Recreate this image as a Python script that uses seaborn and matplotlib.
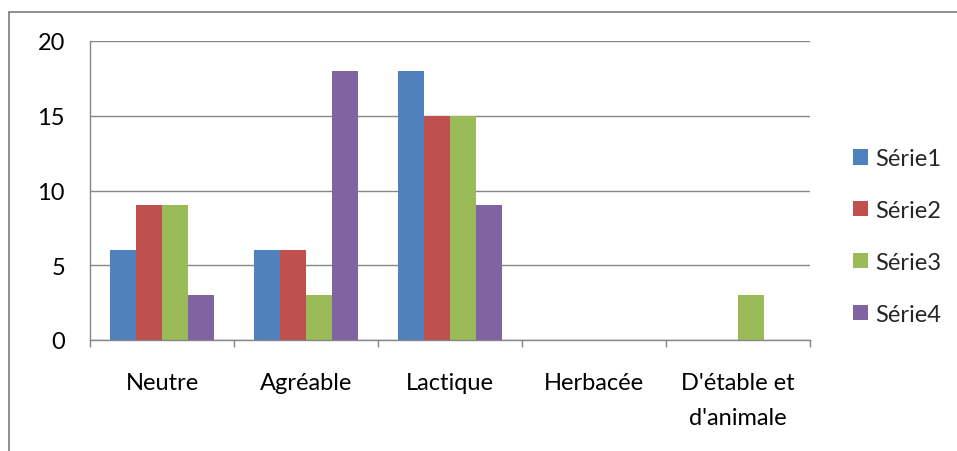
import matplotlib
matplotlib.use("Agg")
import matplotlib.pyplot as plt
import seaborn as sns
import pandas as pd
from matplotlib.lines import Line2D

categories = ["Neutre", "Agréable", "Lactique", "Herbacée", "D'étable et\nd'animale"]
series_names = ["Série1", "Série2", "Série3", "Série4"]
serie1 = [6, 6, 18, 0, 0]
serie2 = [9, 6, 15, 0, 0]
serie3 = [9, 3, 15, 0, 3]
serie4 = [3, 18, 9, 0, 0]
colors = ["#4F81BD", "#C0504D", "#9BBB59", "#8064A2"]
yticks = [0, 5, 10, 15, 20]

rows = []
for name, vals in zip(series_names, [serie1, serie2, serie3, serie4]):
    for c, v in zip(categories, vals):
        rows.append({"cat": c, "serie": name, "val": v})
df = pd.DataFrame(rows)

sns.set_theme(style="white")
plt.rcParams["font.family"] = ["Lato", "DejaVu Sans"]

FS = 17
fig = plt.figure(figsize=(9.57, 4.52), dpi=100)
W, H = 957, 452
ax = fig.add_axes([90 / W, 1 - 341 / H, 720 / W, 299 / H])

sns.barplot(data=df, x="cat", y="val", hue="serie", order=categories,
            hue_order=series_names, palette=colors, width=0.727,
            saturation=1, ax=ax, linewidth=0, errorbar=None)

grid = "#868686"
ax.set_ylim(0, 20)
ax.set_xlim(-0.5, len(categories) - 0.5)
ax.set_yticks(yticks)
ax.set_yticklabels([str(t) for t in yticks], fontsize=FS, color="black")
ax.yaxis.grid(True, color=grid, linewidth=1)
ax.set_axisbelow(True)
ax.set_xlabel("")
ax.set_ylabel("")
for s in ["top", "right"]:
    ax.spines[s].set_visible(False)
for s in ["left", "bottom"]:
    ax.spines[s].set_color(grid)
    ax.spines[s].set_linewidth(1)

ax.set_xticks(range(len(categories)))
ax.set_xticklabels(categories, fontsize=FS, color="black", linespacing=1.85)
ax.tick_params(axis="x", which="major", length=0, pad=23)
ax.set_xticks([i - 0.5 for i in range(len(categories) + 1)], minor=True)
ax.tick_params(axis="x", which="minor", length=5, color=grid, width=1, direction="out", bottom=True)
ax.tick_params(axis="y", length=0, left=False, pad=18)

handles, labels = ax.get_legend_handles_labels()
if ax.legend_:
    ax.legend_.remove()
leg = fig.legend(handles, labels, loc="center left", bbox_to_anchor=(853 / W, 1 - 237.5 / H),
                 frameon=False, fontsize=FS, handlelength=0.62, handleheight=0.62,
                 labelspacing=1.3, handletextpad=0.3, borderpad=0, borderaxespad=0)

# outer chart border (right and bottom are cropped in the reference)
fig.add_artist(Line2D([9 / W, 9 / W], [0, 1 - 12.5 / H], transform=fig.transFigure, color=grid, linewidth=1.3))
fig.add_artist(Line2D([9 / W, 1.0], [1 - 12.5 / H, 1 - 12.5 / H], transform=fig.transFigure, color=grid, linewidth=1.3))

fig.savefig("out.png", dpi=100)
